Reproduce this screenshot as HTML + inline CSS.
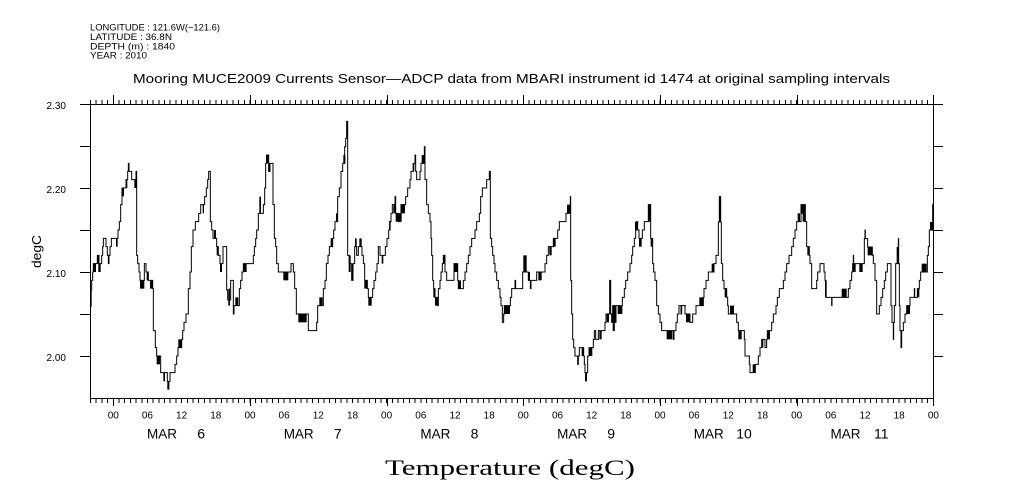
<!DOCTYPE html>
<html>
<head>
<meta charset="utf-8">
<style>
  html,body{margin:0;padding:0;background:#fff;}
  svg{display:block;}
  .s{font-family:"Liberation Sans",Arial,sans-serif;fill:#000;}
</style>
</head>
<body>
<svg width="1009" height="504" viewBox="0 0 1009 504" xmlns="http://www.w3.org/2000/svg">
<rect x="0" y="0" width="1009" height="504" fill="#fff"/>

<!-- header -->
<text class="s" x="90" y="30.5" font-size="9.5" textLength="130" lengthAdjust="spacingAndGlyphs">LONGITUDE : 121.6W(−121.6)</text>
<text class="s" x="90" y="40" font-size="9.5" textLength="82" lengthAdjust="spacingAndGlyphs">LATITUDE : 36.8N</text>
<text class="s" x="90" y="49.3" font-size="9.5" textLength="85" lengthAdjust="spacingAndGlyphs">DEPTH (m) : 1840</text>
<text class="s" x="90" y="58.7" font-size="9.5" textLength="57" lengthAdjust="spacingAndGlyphs">YEAR : 2010</text>

<text class="s" x="133" y="83" font-size="12.5" textLength="757" lengthAdjust="spacingAndGlyphs">Mooring MUCE2009 Currents Sensor—ADCP data from MBARI instrument id 1474 at original sampling intervals</text>

<!-- frame -->
<rect x="90.5" y="104.5" width="843" height="294" fill="none" stroke="#000" stroke-width="1"/>

<!-- y ticks -->
<path d="M80 104.5H90M80 146.5H90M80 188.5H90M80 230.5H90M80 272.5H90M80 314.5H90M80 356.5H90
         M933 104.5H943M933 146.5H943M933 188.5H943M933 230.5H943M933 272.5H943M933 314.5H943M933 356.5H943"
      stroke="#000" stroke-width="1" fill="none"/>

<!-- minor x ticks -->
<line x1="90" y1="102" x2="934" y2="102" stroke="#000" stroke-width="4" stroke-dasharray="1 4.695" shape-rendering="crispEdges"/>
<line x1="90" y1="401" x2="934" y2="401" stroke="#000" stroke-width="4" stroke-dasharray="1 4.695" shape-rendering="crispEdges"/>
<!-- major x ticks -->
<path d="M113.5 95V104M250.5 95V104M387.5 95V104M523.5 95V104M660.5 95V104M797.5 95V104M933.5 95V104
         M113.5 399V406M250.5 399V406M387.5 399V406M523.5 399V406M660.5 399V406M797.5 399V406M933.5 399V406"
      stroke="#000" stroke-width="1" fill="none"/>

<!-- y labels -->
<g class="s" font-size="10" text-anchor="end">
  <text x="66" y="109">2.30</text>
  <text x="66" y="193">2.20</text>
  <text x="66" y="277">2.10</text>
  <text x="66" y="361">2.00</text>
</g>
<text class="s" font-size="13" text-anchor="middle" textLength="33" lengthAdjust="spacingAndGlyphs" transform="translate(41,251.5) rotate(-90)">degC</text>

<!-- x hour labels -->
<g class="s" font-size="10" text-anchor="middle">
  <text x="113.3" y="418.5">00</text><text x="147.4" y="418.5">06</text><text x="181.6" y="418.5">12</text><text x="215.8" y="418.5">18</text>
  <text x="250.0" y="418.5">00</text><text x="284.1" y="418.5">06</text><text x="318.3" y="418.5">12</text><text x="352.5" y="418.5">18</text>
  <text x="386.6" y="418.5">00</text><text x="420.8" y="418.5">06</text><text x="455.0" y="418.5">12</text><text x="489.1" y="418.5">18</text>
  <text x="523.3" y="418.5">00</text><text x="557.5" y="418.5">06</text><text x="591.7" y="418.5">12</text><text x="625.8" y="418.5">18</text>
  <text x="660.0" y="418.5">00</text><text x="694.2" y="418.5">06</text><text x="728.3" y="418.5">12</text><text x="762.5" y="418.5">18</text>
  <text x="796.7" y="418.5">00</text><text x="830.8" y="418.5">06</text><text x="865.0" y="418.5">12</text><text x="899.2" y="418.5">18</text>
  <text x="933.4" y="418.5">00</text>
</g>

<!-- day labels -->
<g class="s" font-size="14">
  <text x="147" y="438.5" textLength="30" lengthAdjust="spacingAndGlyphs">MAR</text>
  <text x="283.7" y="438.5" textLength="30" lengthAdjust="spacingAndGlyphs">MAR</text>
  <text x="420.4" y="438.5" textLength="30" lengthAdjust="spacingAndGlyphs">MAR</text>
  <text x="557.1" y="438.5" textLength="30" lengthAdjust="spacingAndGlyphs">MAR</text>
  <text x="693.8" y="438.5" textLength="30" lengthAdjust="spacingAndGlyphs">MAR</text>
  <text x="830.5" y="438.5" textLength="30" lengthAdjust="spacingAndGlyphs">MAR</text>
</g>
<g class="s" font-size="14" text-anchor="end">
  <text x="205" y="438.5">6</text>
  <text x="341.7" y="438.5">7</text>
  <text x="478.4" y="438.5">8</text>
  <text x="615.1" y="438.5">9</text>
  <text x="751.8" y="438.5">10</text>
  <text x="888.5" y="438.5">11</text>
</g>

<text x="385" y="475" font-family="'Liberation Serif','Times New Roman',serif" font-size="22" textLength="250" lengthAdjust="spacingAndGlyphs" fill="#000">Temperature (degC)</text>

<!-- data segment 1 -->
<g transform="translate(90,100) scale(0.333333)">
<path fill="none" stroke="#000" stroke-width="3" d="M0 620 H3 V570 H5 V541 H8 V516 H10 V491 H20 V491 H22 V466 H27 V491 H33 V491 H35 V466 H38 V440 H40 V415 H48 V440 H52 V466 H55 V491 H57 V466 H60 V440 H64 V415 H84 V390 H88 V365 H92 V314 H96 V264 H108 V239 H113 V214 H115 V190 H117 V214 H125 V239 H138 V214 H140 V466 H143 V491 H147 V516 H150 V541 H163 V491 H168 V516 H175 V541 H188 V566 H190 V692 H196 V743 H200 V768 H212 V818 H232 V844 H240 V818 H255 V793 H260 V768 H264 V743 H275 V718 H278 V692 H282 V667 H288 V642 H295 V566 H300 V516 H304 V440 H309 V390 H316 V365 H326 V340 H332 V314 H344 V290 H349 V264 H353 V239 H356 V214 H361 V365 H365 V390 H369 V415 H380 V440 H385 V466 H390 V491 H396 V491 H399 V440 H405 V440 H410 V570 H413 V600 H422 V541 H428 V541 H430 V642 H432 V617 H448 V566 H452 V541 H456 V516 H460 V491 H490 V466 H493 V440 H497 V415 H500 V390 H505 V340 H515 V340 H520 V314 H524 V264 H527 V190 H530 V165 H536 V214 H540 V190 H545 V190 H549 V314 H553 V415 H557 V440 H560 V491 H565 V516 H603 V491 H610 V516 H614 V566 H619 V642 H655 V692 H680 V667 H683 V617 H700 V566 H705 V541 H709 V491 H714 V466 H718 V440 H728 V415 H731 V390 H735 V365 H743 V290 H748 V264 H753 V214 H758 V190 H764 V140 H767 V115 H770 V64 H773 V466 H778 V491 H785 V541 H789 V491 H794 V440 H800 V466 H805 V440 H816 V466 H820 V491 H824 V541 H832 V566 H835 V592 H846 V592 H848 V566 H852 V541 H857 V516 H861 V491 H865 V440 H870 V466 H880 V466 H886 V440 H891 V415 H896 V390 H899 V365 H903"/>
<g fill="#000">
<rect x="0" y="570" width="5" height="50"/><rect x="10" y="491" width="8" height="25"/><rect x="21" y="466" width="5" height="25"/><rect x="25" y="491" width="7" height="25"/><rect x="78" y="415" width="5" height="25"/><rect x="97" y="264" width="5" height="25"/><rect x="108" y="239" width="4" height="25"/><rect x="133" y="239" width="7" height="25"/><rect x="150" y="541" width="13" height="25"/><rect x="170" y="516" width="5" height="25"/><rect x="180" y="541" width="8" height="25"/><rect x="200" y="768" width="10" height="25"/><rect x="220" y="818" width="5" height="26"/><rect x="232" y="844" width="6" height="25"/><rect x="265" y="718" width="10" height="25"/><rect x="338" y="314" width="4" height="26"/><rect x="372" y="390" width="6" height="25"/><rect x="380" y="440" width="5" height="26"/><rect x="390" y="491" width="6" height="25"/><rect x="415" y="566" width="5" height="51"/><rect x="436" y="592" width="9" height="25"/><rect x="460" y="491" width="10" height="25"/><rect x="508" y="290" width="5" height="50"/><rect x="528" y="165" width="7" height="25"/><rect x="535" y="190" width="5" height="24"/><rect x="580" y="516" width="15" height="25"/><rect x="625" y="642" width="25" height="25"/><rect x="688" y="592" width="10" height="25"/><rect x="722" y="415" width="6" height="25"/><rect x="738" y="340" width="4" height="25"/><rect x="760" y="165" width="6" height="25"/><rect x="776" y="466" width="6" height="50"/><rect x="785" y="491" width="5" height="50"/><rect x="795" y="415" width="5" height="25"/><rect x="808" y="415" width="7" height="25"/><rect x="823" y="541" width="9" height="25"/><rect x="835" y="592" width="10" height="25"/><rect x="875" y="466" width="5" height="25"/>
</g>
</g>

<!-- data segment 2 -->
<g transform="translate(385,100) scale(0.333333)">
<path fill="none" stroke="#000" stroke-width="3" d="M12 365 H15 V365 H18 V340 H22 V314 H30 V290 H32 V340 H40 V365 H45 V340 H48 V314 H62 V290 H68 V264 H75 V239 H78 V214 H85 V190 H90 V165 H92 V214 H95 V239 H105 V214 H108 V190 H118 V140 H120 V239 H125 V314 H130 V340 H135 V365 H138 V415 H140 V466 H143 V541 H146 V566 H150 V592 H158 V617 H160 V566 H165 V541 H168 V516 H172 V491 H175 V466 H180 V516 H185 V541 H207 V491 H218 V541 H220 V566 H228 V566 H235 V541 H240 V516 H245 V491 H250 V466 H255 V440 H260 V415 H270 V390 H275 V365 H283 V340 H287 V290 H292 V264 H305 V239 H313 V214 H316 V415 H320 V440 H323 V466 H327 V491 H330 V516 H335 V541 H340 V566 H345 V592 H348 V617 H352 V667 H356 V642 H358 V617 H376 V592 H380 V566 H390 V541 H392 V566 H410 V566 H413 V516 H425 V516 H430 V541 H436 V566 H438 V541 H455 V516 H480 V491 H485 V466 H490 V440 H505 V415 H518 V390 H523 V365 H543 V340 H556 V290 H557 V541 H560 V642 H563 V718 H566 V743 H570 V768 H577 V768 H578 V793 H580 V768 H583 V743 H596 V768 H598 V793 H600 V818 H606 V818 H608 V768 H612 V743 H625 V718 H628 V692 H632 V718 H640 V692 H660 V667 H663 V642 H674 V541 H677 V642 H680 V667 H683 V617 H686 V692 H688 V617 H690 V667 H693 V617 H712 V592 H718 V566 H722 V541 H728 V516 H735 V491 H740 V466 H743 V440 H748 V415 H752 V390 H755 V365 H758 V390 H762 V415 H772 V390 H778 V365 H790 V314 H797 V415 H803 V491 H806 V516 H810 V541 H815 V617 H820 V642 H825 V667 H830 V692 H865 V718 H867 V692 H873 V667 H877 V642 H882 V617 H888 V642 H890 V617 H903"/>
<g fill="#000">
<rect x="13" y="365" width="4" height="25"/><rect x="25" y="314" width="7" height="26"/><rect x="32" y="340" width="18" height="25"/><rect x="48" y="314" width="12" height="26"/><rect x="83" y="190" width="5" height="24"/><rect x="110" y="165" width="8" height="25"/><rect x="145" y="566" width="5" height="26"/><rect x="150" y="592" width="8" height="25"/><rect x="175" y="466" width="5" height="25"/><rect x="207" y="491" width="11" height="25"/><rect x="220" y="541" width="8" height="25"/><rect x="358" y="617" width="17" height="25"/><rect x="415" y="466" width="10" height="50"/><rect x="430" y="516" width="5" height="25"/><rect x="460" y="516" width="10" height="25"/><rect x="493" y="440" width="7" height="26"/><rect x="505" y="415" width="7" height="25"/><rect x="546" y="314" width="9" height="26"/><rect x="590" y="743" width="6" height="25"/><rect x="600" y="818" width="6" height="26"/><rect x="612" y="743" width="10" height="25"/><rect x="643" y="692" width="7" height="26"/><rect x="665" y="642" width="7" height="25"/><rect x="683" y="642" width="3" height="50"/><rect x="698" y="617" width="14" height="25"/><rect x="750" y="365" width="5" height="25"/><rect x="762" y="415" width="8" height="25"/><rect x="790" y="314" width="7" height="51"/><rect x="797" y="415" width="5" height="25"/><rect x="845" y="692" width="17" height="26"/>
</g>
</g>

<!-- data segment 3 -->
<g transform="translate(680,100) scale(0.333333)">
<path fill="none" stroke="#000" stroke-width="3" d="M15 617 V642 H30 V667 H38 V642 H48 V617 H70 V592 H72 V566 H78 V541 H85 V516 H102 V491 H108 V466 H115 V366 H118 V290 H122 V366 H124 V491 H128 V541 H132 V566 H140 V592 H143 V617 H145 V642 H170 V667 H175 V692 H193 V718 H195 V768 H208 V793 H210 V818 H226 V793 H235 V768 H240 V743 H245 V718 H255 V743 H260 V718 H262 V692 H275 V667 H280 V642 H288 V617 H292 V592 H298 V566 H310 V541 H315 V516 H320 V491 H327 V466 H335 V440 H340 V415 H345 V390 H350 V365 H363 V314 H366 V340 H368 V314 H376 V365 H380 V440 H388 V466 H390 V491 H395 V566 H410 V541 H413 V516 H420 V491 H432 V516 H435 V541 H438 V592 H455 V617 H456 V592 H505 V566 H510 V541 H515 V516 H518 V491 H520 V466 H521 V491 H553 V416 H555 V390 H556 V416 H563 V441 H577 V466 H580 V491 H585 V541 H590 V642 H598 V617 H603 V592 H608 V566 H613 V541 H617 V516 H622 V491 H633 V617 H636 V667 H640 V718 H641 V667 H643 V617 H647 V491 H655 V416 H656 V491 H658 V617 H660 V692 H663 V743 H665 V692 H670 V667 H675 V642 H680 V617 H690 V592 H703 V566 H704 V592 H712 V566 H718 V541 H722 V516 H742 V466 H745 V440 H748 V390 H758 V314 H760"/>
<g fill="#000">
<rect x="18" y="642" width="12" height="25"/><rect x="58" y="592" width="12" height="25"/><rect x="95" y="491" width="7" height="25"/><rect x="117" y="290" width="5" height="76"/><rect x="134" y="566" width="6" height="26"/><rect x="150" y="617" width="12" height="25"/><rect x="175" y="692" width="10" height="26"/><rect x="218" y="793" width="8" height="25"/><rect x="245" y="718" width="5" height="25"/><rect x="262" y="692" width="8" height="26"/><rect x="353" y="340" width="7" height="25"/><rect x="368" y="314" width="8" height="51"/><rect x="382" y="440" width="6" height="26"/><rect x="435" y="541" width="5" height="51"/><rect x="485" y="566" width="15" height="26"/><rect x="518" y="491" width="9" height="25"/><rect x="538" y="491" width="10" height="25"/><rect x="563" y="441" width="14" height="25"/><rect x="650" y="441" width="5" height="50"/><rect x="680" y="617" width="10" height="25"/><rect x="712" y="566" width="6" height="26"/><rect x="725" y="491" width="15" height="25"/><rect x="750" y="366" width="8" height="24"/>
</g>
</g>

</svg>
</body>
</html>
